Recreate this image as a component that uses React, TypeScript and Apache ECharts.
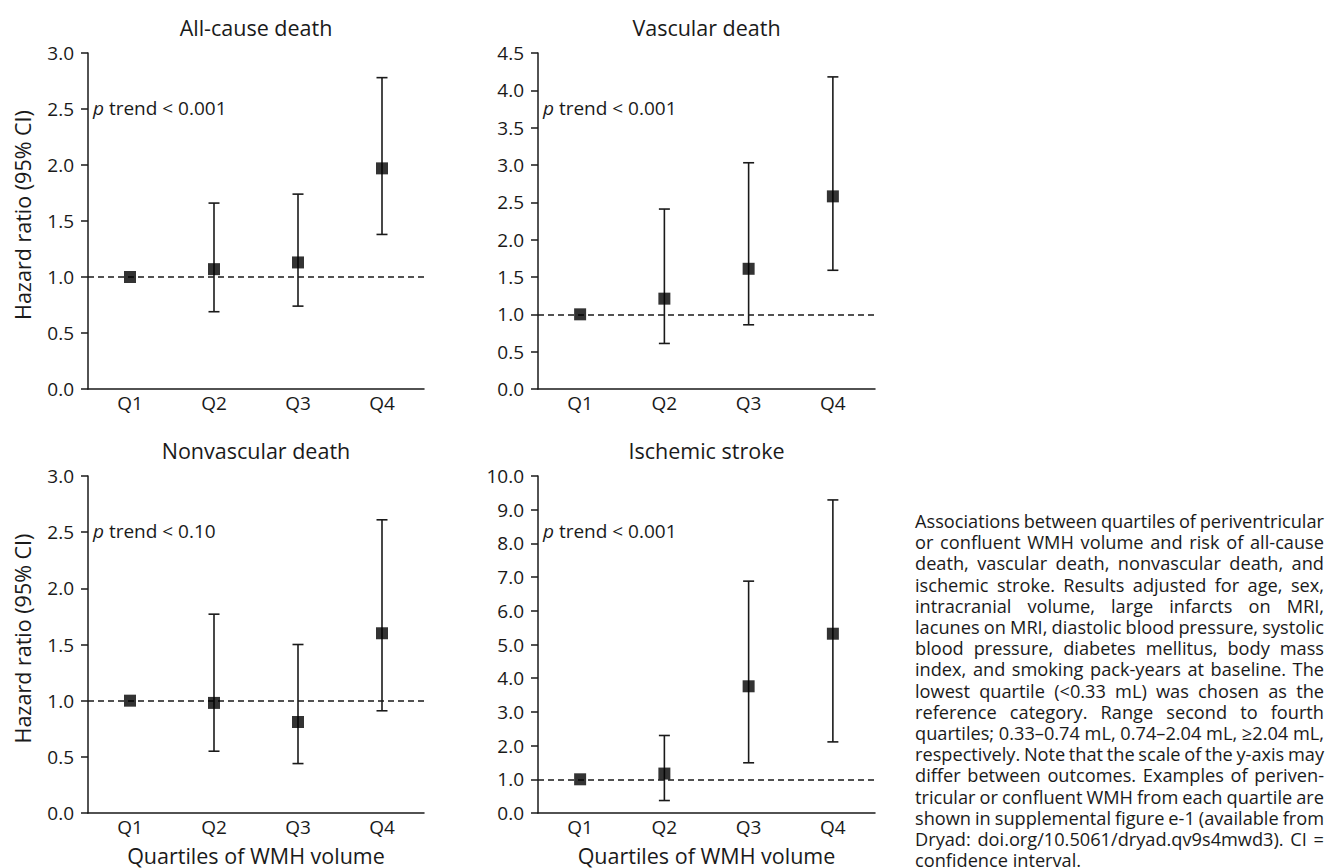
import React, { useEffect, useRef } from "react";
import * as echarts from "echarts";

const categories = ["Q1", "Q2", "Q3", "Q4"];

const panelTitles = ["All-cause death", "Vascular death", "Nonvascular death", "Ischemic stroke"];
const pTrendValues = ["< 0.001", "< 0.001", "< 0.10", "< 0.001"];

const allCauseHR = [1.0, 1.07, 1.13, 1.97];
const allCauseLow = [null, 0.69, 0.74, 1.38];
const allCauseHigh = [null, 1.66, 1.74, 2.78];

const vascularHR = [1.0, 1.21, 1.61, 2.58];
const vascularLow = [null, 0.61, 0.86, 1.59];
const vascularHigh = [null, 2.41, 3.03, 4.18];

const nonvascularHR = [1.0, 0.98, 0.81, 1.6];
const nonvascularLow = [null, 0.55, 0.44, 0.91];
const nonvascularHigh = [null, 1.77, 1.5, 2.61];

const strokeHR = [1.0, 1.17, 3.76, 5.32];
const strokeLow = [null, 0.37, 1.49, 2.11];
const strokeHigh = [null, 2.3, 6.88, 9.29];

const yMaxes = [3, 4.5, 3, 10];
const yIntervals = [0.5, 0.5, 0.5, 1];
const referenceHR = 1.0;

const yAxisName = "Hazard ratio (95% CI)";
const xAxisName = "Quartiles of WMH volume";

const captionLines = [
  "Associations between quartiles of periventricular",
  "or confluent WMH volume and risk of all-cause",
  "death, vascular death, nonvascular death, and",
  "ischemic stroke. Results adjusted for age, sex,",
  "intracranial volume, large infarcts on MRI,",
  "lacunes on MRI, diastolic blood pressure, systolic",
  "blood pressure, diabetes mellitus, body mass",
  "index, and smoking pack-years at baseline. The",
  "lowest quartile (<0.33 mL) was chosen as the",
  "reference category. Range second to fourth",
  "quartiles; 0.33\u20130.74 mL, 0.74\u20132.04 mL, \u22652.04 mL,",
  "respectively. Note that the scale of the y-axis may",
  "differ between outcomes. Examples of periven-",
  "tricular or confluent WMH from each quartile are",
  "shown in supplemental figure e-1 (available from",
  "Dryad: doi.org/10.5061/dryad.qv9s4mwd3). CI =",
  "confidence interval.",
];

const FONT = "'Open Sans', 'Noto Sans', sans-serif";
const INK = "#1a1a1a";

const panels = [
  { hr: allCauseHR, low: allCauseLow, high: allCauseHigh },
  { hr: vascularHR, low: vascularLow, high: vascularHigh },
  { hr: nonvascularHR, low: nonvascularLow, high: nonvascularHigh },
  { hr: strokeHR, low: strokeLow, high: strokeHigh },
];

const grids = [
  { left: 88, top: 53, width: 336, height: 336 },
  { left: 538, top: 53, width: 337, height: 336 },
  { left: 88, top: 476, width: 336, height: 337 },
  { left: 538, top: 476, width: 337, height: 337 },
];

function buildOption() {
  const xAxes: any[] = [];
  const yAxes: any[] = [];
  const series: any[] = [];
  const graphics: any[] = [];

  panels.forEach((p, i) => {
    const g = grids[i];
    xAxes.push({
      type: "category",
      gridIndex: i,
      data: categories,
      boundaryGap: true,
      axisLine: { show: true, lineStyle: { color: INK, width: 1.5 } },
      axisTick: { show: false },
      axisLabel: { color: INK, fontSize: 19, fontFamily: FONT, margin: 4 },
      splitLine: { show: false },
    });
    yAxes.push({
      type: "value",
      gridIndex: i,
      min: 0,
      max: yMaxes[i],
      interval: yIntervals[i],
      axisLine: { show: true, lineStyle: { color: INK, width: 1.5 } },
      axisTick: { show: true, length: 7, lineStyle: { color: INK, width: 1.5 } },
      axisLabel: {
        color: INK,
        fontSize: 19,
        fontFamily: FONT,
        margin: 14,
        formatter: (v: number) => v.toFixed(1),
      },
      splitLine: { show: false },
    });

    const errData = categories
      .map((_, k) => (p.low[k] == null ? null : [k, p.low[k], p.high[k]]))
      .filter((d) => d != null);

    series.push({
      type: "custom",
      xAxisIndex: i,
      yAxisIndex: i,
      silent: true,
      z: 2,
      encode: { x: 0, y: [1, 2] },
      data: errData,
      renderItem: (params: any, api: any) => {
        const xi = api.value(0);
        const lo = api.coord([xi, api.value(1)]);
        const hi = api.coord([xi, api.value(2)]);
        const w = 5.5;
        const style = { stroke: INK, lineWidth: 1.6 };
        return {
          type: "group",
          children: [
            { type: "line", shape: { x1: lo[0], y1: lo[1], x2: hi[0], y2: hi[1] }, style },
            { type: "line", shape: { x1: lo[0] - w, y1: lo[1], x2: lo[0] + w, y2: lo[1] }, style },
            { type: "line", shape: { x1: hi[0] - w, y1: hi[1], x2: hi[0] + w, y2: hi[1] }, style },
          ],
        };
      },
    });

    series.push({
      type: "scatter",
      xAxisIndex: i,
      yAxisIndex: i,
      symbol: "rect",
      symbolSize: 12,
      itemStyle: { color: "#000" },
      z: 5,
      silent: true,
      data: p.hr,
      markLine: {
        silent: true,
        symbol: ["none", "none"],
        label: { show: false },
        lineStyle: { type: [6, 4], color: INK, width: 1.5 },
        data: [{ yAxis: referenceHR }],
        z: 1,
      },
    });

    const cx = g.left + g.width / 2;
    graphics.push({
      type: "text",
      x: cx,
      y: g.top - 26,
      style: {
        text: panelTitles[i],
        fill: INK,
        font: `21.5px ${FONT}`,
        textAlign: "center",
        textVerticalAlign: "middle",
      },
    });
    graphics.push({
      type: "text",
      x: g.left + 5,
      y: g.top + 55,
      style: {
        text: `{i|p} trend ${pTrendValues[i]}`,
        fill: INK,
        font: `19px ${FONT}`,
        textAlign: "left",
        textVerticalAlign: "middle",
        rich: {
          i: { fontStyle: "italic", fontSize: 19, fontFamily: FONT, fill: INK },
        },
      },
    });
    if (i % 2 === 0) {
      graphics.push({
        type: "text",
        x: 22,
        y: g.top + g.height / 2 - 6,
        rotation: Math.PI / 2,
        style: {
          text: yAxisName,
          fill: INK,
          font: `21.5px ${FONT}`,
          textAlign: "center",
          textVerticalAlign: "middle",
        },
      });
    }
    if (i >= 2) {
      graphics.push({
        type: "text",
        x: cx,
        y: g.top + g.height + 42,
        style: {
          text: xAxisName,
          fill: INK,
          font: `21.5px ${FONT}`,
          textAlign: "center",
          textVerticalAlign: "middle",
        },
      });
    }
  });

  return {
    animation: false,
    backgroundColor: "#ffffff",
    grid: grids.map((g) => ({ ...g, containLabel: false })),
    xAxis: xAxes,
    yAxis: yAxes,
    series,
    graphic: graphics,
  };
}

export default function App() {
  const ref = useRef<HTMLDivElement>(null);
  useEffect(() => {
    if (!ref.current) return;
    const chart = echarts.init(ref.current, undefined, { renderer: "svg" });
    chart.setOption(buildOption() as any);
    return () => chart.dispose();
  }, []);

  const bodyText = captionLines.slice(0, -1).join("\n");
  const lastLine = captionLines[captionLines.length - 1];
  return (
    <div style={{ position: "absolute", left: 0, top: 0, width: 1327, height: 868, background: "#fff" }}>
      <div ref={ref} style={{ position: "absolute", left: 0, top: 0, width: 1327, height: 868 }} />
      <div
        style={{
          position: "absolute",
          left: 915,
          top: 511,
          width: 409,
          fontFamily: FONT,
          fontSize: 18.2,
          lineHeight: "21.2px",
          color: INK,
        }}
      >
        <div
          style={{
            whiteSpace: "pre-line",
            wordSpacing: "-4px",
            textAlign: "justify",
            textAlignLast: "justify",
          }}
        >
          {bodyText}
        </div>
        <div style={{ whiteSpace: "nowrap", textAlign: "left" }}>{lastLine}</div>
      </div>
    </div>
  );
}
